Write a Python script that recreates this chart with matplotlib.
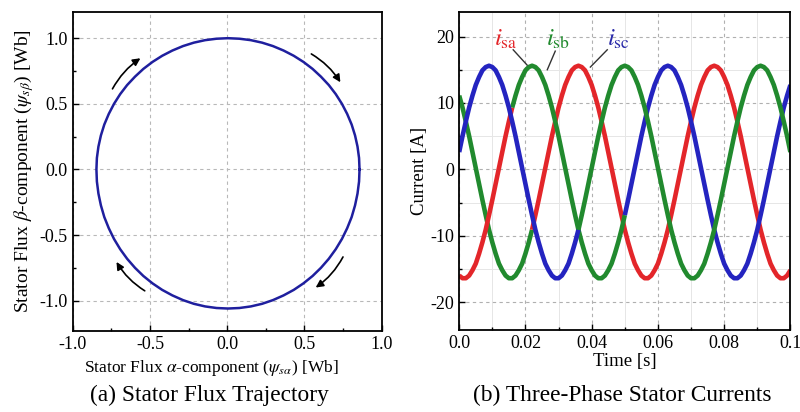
import numpy as np
import matplotlib
matplotlib.use('Agg')
from matplotlib import pyplot as plt
from matplotlib.ticker import MultipleLocator, FixedLocator, FixedFormatter

plt.rcParams['font.family'] = ['Liberation Serif', 'DejaVu Serif']
plt.rcParams['mathtext.fontset'] = 'stix'
plt.rcParams['axes.unicode_minus'] = False

# stator flux trajectory, read every 5 degrees round the loop [Wb]
psi_alpha = [0.857, 0.854, 0.844, 0.828, 0.806, 0.777, 0.743, 0.703, 0.658, 0.607,
             0.553, 0.494, 0.431, 0.365, 0.296, 0.226, 0.153, 0.079, 0.005,
             -0.069, -0.143, -0.216, -0.286, -0.355, -0.421, -0.484, -0.543, -0.597,
             -0.648, -0.693, -0.733, -0.767, -0.796, -0.818, -0.834, -0.844, -0.847,
             -0.844, -0.834, -0.818, -0.796, -0.767, -0.733, -0.693, -0.648, -0.597,
             -0.543, -0.484, -0.421, -0.355, -0.286, -0.216, -0.143, -0.069, 0.005,
             0.079, 0.153, 0.226, 0.296, 0.365, 0.431, 0.494, 0.553, 0.607, 0.658,
             0.703, 0.743, 0.777, 0.806, 0.828, 0.844, 0.854, 0.857]
psi_beta = [0.0, 0.087, 0.174, 0.259, 0.342, 0.423, 0.500, 0.574, 0.643, 0.707,
            0.766, 0.819, 0.866, 0.906, 0.940, 0.966, 0.985, 0.996, 1.000,
            0.996, 0.985, 0.966, 0.940, 0.906, 0.866, 0.819, 0.766, 0.707,
            0.643, 0.574, 0.500, 0.423, 0.342, 0.259, 0.174, 0.087, 0.0,
            -0.092, -0.184, -0.274, -0.363, -0.448, -0.530, -0.608, -0.681, -0.750,
            -0.812, -0.868, -0.918, -0.960, -0.996, -1.024, -1.044, -1.056, -1.060,
            -1.056, -1.044, -1.024, -0.996, -0.960, -0.918, -0.868, -0.812, -0.750,
            -0.681, -0.608, -0.530, -0.448, -0.363, -0.274, -0.184, -0.092, 0.0]

# three-phase currents, read every 1 ms [A]
time_ms = list(range(0, 101))
i_a = [11.1, 9.3, 7.2, 5.0, 2.6, 0.2, -2.2, -4.6, -6.9, -9.1, -11.0, -12.7, -14.2, -15.2,
       -16.0, -16.4, -16.4, -16.0, -15.2, -14.2, -12.7, -11.0, -9.1, -6.9, -4.6, -2.2,
       0.2, 2.6, 5.0, 7.2, 9.3, 11.1, 12.7, 13.9, 14.9, 15.4,
       15.6, 15.4, 14.9, 13.9, 12.7, 11.1, 9.3, 7.2, 5.0, 2.6, 0.2, -2.2, -4.6, -6.9,
       -9.1, -11.0, -12.7, -14.2, -15.2, -16.0, -16.4, -16.4, -16.0, -15.2, -14.2, -12.7,
       -11.0, -9.1, -6.9, -4.6, -2.2, 0.2, 2.6, 5.0, 7.2, 9.3, 11.1, 12.7, 13.9, 14.9, 15.4,
       15.6, 15.4, 14.9, 13.9, 12.7, 11.1, 9.3, 7.2, 5.0, 2.6, 0.2, -2.2, -4.6, -6.9,
       -9.1, -11.0, -12.7, -14.2, -15.2, -16.0, -16.4, -16.4, -16.0, -15.2]
i_b = [-16.0, -16.4, -16.4, -16.0, -15.2, -14.2, -12.7, -11.0, -9.1, -6.9, -4.6, -2.2,
       0.2, 2.6, 5.0, 7.2, 9.3, 11.1, 12.7, 13.9, 14.9, 15.4,
       15.6, 15.4, 14.9, 13.9, 12.7, 11.1, 9.3, 7.2, 5.0, 2.6, 0.2, -2.2, -4.6, -6.9,
       -9.1, -11.0, -12.7, -14.2, -15.2, -16.0, -16.4, -16.4, -16.0, -15.2, -14.2, -12.7,
       -11.0, -9.1, -6.9, -4.6, -2.2, 0.2, 2.6, 5.0, 7.2, 9.3, 11.1, 12.7, 13.9, 14.9, 15.4,
       15.6, 15.4, 14.9, 13.9, 12.7, 11.1, 9.3, 7.2, 5.0, 2.6, 0.2, -2.2, -4.6, -6.9,
       -9.1, -11.0, -12.7, -14.2, -15.2, -16.0, -16.4, -16.4, -16.0, -15.2, -14.2, -12.7,
       -11.0, -9.1, -6.9, -4.6, -2.2, 0.2, 2.6, 5.0, 7.2, 9.3, 11.1, 12.7]
i_c = [2.6, 5.0, 7.2, 9.3, 11.1, 12.7, 13.9, 14.9, 15.4,
       15.6, 15.4, 14.9, 13.9, 12.7, 11.1, 9.3, 7.2, 5.0, 2.6, 0.2, -2.2, -4.6, -6.9,
       -9.1, -11.0, -12.7, -14.2, -15.2, -16.0, -16.4, -16.4, -16.0, -15.2, -14.2, -12.7,
       -11.0, -9.1, -6.9, -4.6, -2.2, 0.2, 2.6, 5.0, 7.2, 9.3, 11.1, 12.7, 13.9, 14.9, 15.4,
       15.6, 15.4, 14.9, 13.9, 12.7, 11.1, 9.3, 7.2, 5.0, 2.6, 0.2, -2.2, -4.6, -6.9,
       -9.1, -11.0, -12.7, -14.2, -15.2, -16.0, -16.4, -16.4, -16.0, -15.2, -14.2, -12.7,
       -11.0, -9.1, -6.9, -4.6, -2.2, 0.2, 2.6, 5.0, 7.2, 9.3, 11.1, 12.7, 13.9, 14.9, 15.4,
       15.6, 15.4, 14.9, 13.9, 12.7, 11.1, 9.3, 7.2, 5.0, 2.6]

time_ticks = [0.0, 0.02, 0.04, 0.06, 0.08, 0.1]
time_tick_labels = ['0.0', '0.02', '0.04', '0.06', '0.08', '0.1']

RED = '#e3262a'
GREEN = '#218a2e'
BLUE = '#2424c0'
FLUX = '#1f1f9e'

fig = plt.figure(figsize=(8, 4.12), dpi=100)
ax1 = fig.add_axes([0.091, 0.197, 0.386, 0.774])
ax2 = fig.add_axes([0.574, 0.199, 0.414, 0.772])

for ax in (ax1, ax2):
    ax.tick_params(which='both', direction='in', labelsize=13, width=1)
    ax.tick_params(which='major', length=4)
    ax.tick_params(which='minor', length=2.5)
    for sp in ax.spines.values():
        sp.set_linewidth(1.3)

# (a) flux trajectory
ax1.plot(psi_alpha, psi_beta, color=FLUX, lw=1.8)
ax1.set_xlim(-1.0, 1.0)
ax1.set_ylim(-1.23, 1.2)
ax1.xaxis.set_major_locator(MultipleLocator(0.5))
ax1.xaxis.set_minor_locator(MultipleLocator(0.25))
ax1.yaxis.set_major_locator(MultipleLocator(0.5))
ax1.yaxis.set_minor_locator(MultipleLocator(0.25))
ax1.grid(True, which='major', ls=(0, (3, 3)), color='#b8b8b8', lw=0.8)
ax1.set_axisbelow(True)
ax1.set_xlabel(r'Stator Flux $\alpha$-component ($\psi_{s\alpha}$) [Wb]', fontsize=12.5)
ax1.xaxis.set_label_coords(0.45, -0.085)
ax1.set_ylabel(r'Stator Flux $\beta$-component ($\psi_{s\beta}$) [Wb]', fontsize=14, labelpad=3)

arrows = [((-0.743, 0.614), (-0.562, 0.847)),
          ((0.545, 0.88), (0.733, 0.664)),
          ((0.75, -0.667), (0.573, -0.90)),
          ((-0.534, -0.925), (-0.717, -0.705))]
for tail, head in arrows:
    ax1.annotate('', xy=head, xytext=tail,
                 arrowprops=dict(arrowstyle='-|>', color='black', lw=1.2,
                                 mutation_scale=11, shrinkA=0, shrinkB=0,
                                 connectionstyle='arc3,rad=-0.12'))

# (b) stator currents
t = np.array(time_ms) / 1000.0
ms = np.array(time_ms)
curves = [(np.array(i_a), [(0, 22, GREEN), (22, 100, RED)]),
          (np.array(i_b), [(0, 16, RED), (16, 50, GREEN), (50, 100, BLUE)]),
          (np.array(i_c), [(0, 36, BLUE), (36, 100, GREEN)])]
for vals, segs in curves:
    for s, e, col in segs:
        m = (ms >= s) & (ms <= e)
        ax2.plot(t[m], vals[m], color=col, lw=3.3, solid_capstyle='butt')

ax2.set_xlim(0, 0.1)
ax2.set_ylim(-24.2, 23.7)
ax2.xaxis.set_major_locator(FixedLocator(time_ticks))
ax2.xaxis.set_major_formatter(FixedFormatter(time_tick_labels))
ax2.xaxis.set_minor_locator(MultipleLocator(0.01))
ax2.yaxis.set_major_locator(MultipleLocator(10))
ax2.yaxis.set_minor_locator(MultipleLocator(5))
ax2.grid(True, which='major', ls=(0, (3, 3)), color='#b0b0b0', lw=0.8)
ax2.grid(True, which='minor', ls='-', color='#e6e6e6', lw=0.7)
ax2.set_axisbelow(True)
ax2.set_xlabel('Time [s]', fontsize=13.5, labelpad=1)
ax2.set_ylabel('Current [A]', fontsize=13.5, labelpad=2)

labels = [(r'$i_{\rm sa}$', RED, (0.0139, 19.6), (0.0163, 18.0), (0.0205, 15.7)),
          (r'$i_{\rm sb}$', GREEN, (0.0299, 19.6), (0.0290, 17.8), (0.0266, 15.0)),
          (r'$i_{\rm sc}$', '#2a2aa8', (0.0480, 19.6), (0.0447, 18.0), (0.0396, 15.4))]
for txt, col, pos, p0, p1 in labels:
    ax2.text(pos[0], pos[1], txt, color=col, fontsize=18, ha='center', va='center')
    ax2.plot([p0[0], p1[0]], [p0[1], p1[1]], color='#333333', lw=1.0)

fig.text(0.262, 0.04, '(a) Stator Flux Trajectory', fontsize=16.8, ha='center', va='center')
fig.text(0.778, 0.04, '(b) Three-Phase Stator Currents', fontsize=16.8, ha='center', va='center')

fig.savefig('out.png', dpi=100)
